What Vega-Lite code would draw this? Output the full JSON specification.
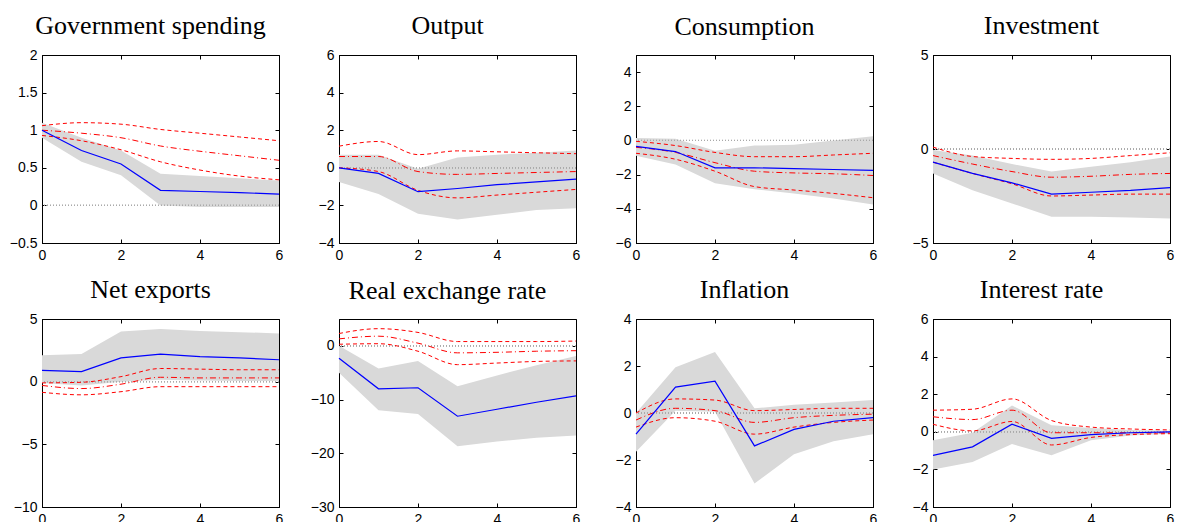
{
  "$schema": "https://vega.github.io/schema/vega-lite/v6.json",
  "padding": {"left": 8, "top": 12, "right": 5, "bottom": 0},
  "datasets": {
    "irf": [
      {"p":"g","t":0,"blue":1.0,"lo":0.9,"hi":1.1,"ru":1.06,"rm":1.0,"rl":0.93},
      {"p":"g","t":1,"blue":0.73,"lo":0.58,"hi":0.9,"ru":1.1,"rm":0.96,"rl":0.86},
      {"p":"g","t":2,"blue":0.55,"lo":0.4,"hi":0.73,"ru":1.08,"rm":0.9,"rl":0.74},
      {"p":"g","t":3,"blue":0.2,"lo":0.0,"hi":0.42,"ru":1.01,"rm":0.79,"rl":0.58},
      {"p":"g","t":4,"blue":0.185,"lo":-0.02,"hi":0.39,"ru":0.96,"rm":0.72,"rl":0.47},
      {"p":"g","t":5,"blue":0.17,"lo":-0.02,"hi":0.36,"ru":0.91,"rm":0.66,"rl":0.39},
      {"p":"g","t":6,"blue":0.15,"lo":-0.02,"hi":0.33,"ru":0.86,"rm":0.6,"rl":0.34},

      {"p":"y","t":0,"blue":0.0,"lo":-0.75,"hi":0.7,"ru":1.15,"rm":0.6,"rl":0.0},
      {"p":"y","t":1,"blue":-0.3,"lo":-1.4,"hi":0.7,"ru":1.4,"rm":0.6,"rl":-0.2},
      {"p":"y","t":2,"blue":-1.27,"lo":-2.45,"hi":-0.05,"ru":0.7,"rm":-0.2,"rl":-1.2},
      {"p":"y","t":3,"blue":-1.1,"lo":-2.75,"hi":0.55,"ru":0.9,"rm":-0.35,"rl":-1.6},
      {"p":"y","t":4,"blue":-0.9,"lo":-2.5,"hi":0.7,"ru":0.85,"rm":-0.3,"rl":-1.45},
      {"p":"y","t":5,"blue":-0.75,"lo":-2.25,"hi":0.8,"ru":0.8,"rm":-0.25,"rl":-1.3},
      {"p":"y","t":6,"blue":-0.6,"lo":-2.15,"hi":0.92,"ru":0.75,"rm":-0.2,"rl":-1.15},

      {"p":"c","t":0,"blue":-0.35,"lo":-0.9,"hi":0.15,"ru":-0.05,"rm":-0.4,"rl":-0.75},
      {"p":"c","t":1,"blue":-0.65,"lo":-1.4,"hi":0.1,"ru":-0.3,"rm":-0.7,"rl":-1.1},
      {"p":"c","t":2,"blue":-1.6,"lo":-2.5,"hi":-0.6,"ru":-0.7,"rm":-1.3,"rl":-1.8},
      {"p":"c","t":3,"blue":-1.6,"lo":-2.85,"hi":-0.3,"ru":-0.95,"rm":-1.8,"rl":-2.7},
      {"p":"c","t":4,"blue":-1.65,"lo":-3.1,"hi":-0.25,"ru":-0.95,"rm":-1.9,"rl":-2.9},
      {"p":"c","t":5,"blue":-1.7,"lo":-3.4,"hi":0.0,"ru":-0.85,"rm":-1.95,"rl":-3.1},
      {"p":"c","t":6,"blue":-1.75,"lo":-3.75,"hi":0.25,"ru":-0.75,"rm":-2.05,"rl":-3.35},

      {"p":"i","t":0,"blue":-0.7,"lo":-1.3,"hi":-0.05,"ru":0.1,"rm":-0.35,"rl":-0.7},
      {"p":"i","t":1,"blue":-1.3,"lo":-2.2,"hi":-0.35,"ru":-0.4,"rm":-0.8,"rl":-1.3},
      {"p":"i","t":2,"blue":-1.8,"lo":-2.9,"hi":-0.8,"ru":-0.5,"rm":-1.2,"rl":-1.85},
      {"p":"i","t":3,"blue":-2.4,"lo":-3.6,"hi":-1.2,"ru":-0.55,"rm":-1.5,"rl":-2.5},
      {"p":"i","t":4,"blue":-2.3,"lo":-3.6,"hi":-0.95,"ru":-0.5,"rm":-1.45,"rl":-2.45},
      {"p":"i","t":5,"blue":-2.2,"lo":-3.65,"hi":-0.7,"ru":-0.35,"rm":-1.35,"rl":-2.4},
      {"p":"i","t":6,"blue":-2.05,"lo":-3.7,"hi":-0.4,"ru":-0.2,"rm":-1.3,"rl":-2.4},

      {"p":"nx","t":0,"blue":0.9,"lo":-0.1,"hi":2.1,"ru":-0.1,"rm":-0.3,"rl":-0.85},
      {"p":"nx","t":1,"blue":0.8,"lo":-0.3,"hi":2.2,"ru":-0.05,"rm":-0.55,"rl":-1.05},
      {"p":"nx","t":2,"blue":1.9,"lo":0.0,"hi":4.0,"ru":0.4,"rm":-0.2,"rl":-0.8},
      {"p":"nx","t":3,"blue":2.2,"lo":0.15,"hi":4.2,"ru":1.05,"rm":0.35,"rl":-0.4},
      {"p":"nx","t":4,"blue":2.0,"lo":0.1,"hi":4.05,"ru":1.0,"rm":0.3,"rl":-0.4},
      {"p":"nx","t":5,"blue":1.9,"lo":0.05,"hi":3.95,"ru":0.95,"rm":0.3,"rl":-0.4},
      {"p":"nx","t":6,"blue":1.75,"lo":0.05,"hi":3.85,"ru":0.95,"rm":0.3,"rl":-0.4},

      {"p":"q","t":0,"blue":-2.3,"lo":-5.0,"hi":0.0,"ru":2.3,"rm":1.3,"rl":0.3},
      {"p":"q","t":1,"blue":-8.0,"lo":-12.0,"hi":-4.2,"ru":3.2,"rm":1.8,"rl":0.4},
      {"p":"q","t":2,"blue":-7.8,"lo":-12.7,"hi":-2.8,"ru":2.5,"rm":0.5,"rl":-1.0},
      {"p":"q","t":3,"blue":-13.1,"lo":-18.7,"hi":-7.5,"ru":0.8,"rm":-1.3,"rl":-3.5},
      {"p":"q","t":4,"blue":-11.8,"lo":-17.8,"hi":-5.5,"ru":0.8,"rm":-1.2,"rl":-3.2},
      {"p":"q","t":5,"blue":-10.5,"lo":-17.1,"hi":-3.6,"ru":0.8,"rm":-1.0,"rl":-2.9},
      {"p":"q","t":6,"blue":-9.3,"lo":-16.7,"hi":-1.9,"ru":0.9,"rm":-0.9,"rl":-2.8},

      {"p":"pi","t":0,"blue":-0.9,"lo":-1.65,"hi":0.0,"ru":0.0,"rm":-0.3,"rl":-0.6},
      {"p":"pi","t":1,"blue":1.1,"lo":0.1,"hi":1.95,"ru":0.6,"rm":0.2,"rl":-0.2},
      {"p":"pi","t":2,"blue":1.35,"lo":0.05,"hi":2.6,"ru":0.55,"rm":0.1,"rl":-0.35},
      {"p":"pi","t":3,"blue":-1.4,"lo":-3.0,"hi":0.2,"ru":0.1,"rm":-0.4,"rl":-0.9},
      {"p":"pi","t":4,"blue":-0.7,"lo":-1.75,"hi":0.35,"ru":0.15,"rm":-0.2,"rl":-0.6},
      {"p":"pi","t":5,"blue":-0.35,"lo":-1.2,"hi":0.45,"ru":0.2,"rm":-0.1,"rl":-0.4},
      {"p":"pi","t":6,"blue":-0.2,"lo":-0.9,"hi":0.55,"ru":0.2,"rm":-0.05,"rl":-0.3},

      {"p":"r","t":0,"blue":-1.25,"lo":-2.0,"hi":-0.45,"ru":1.15,"rm":0.8,"rl":0.4},
      {"p":"r","t":1,"blue":-0.8,"lo":-1.6,"hi":-0.05,"ru":1.2,"rm":0.65,"rl":0.05},
      {"p":"r","t":2,"blue":0.4,"lo":-0.65,"hi":1.4,"ru":1.75,"rm":1.15,"rl":0.55},
      {"p":"r","t":3,"blue":-0.35,"lo":-1.25,"hi":0.35,"ru":0.6,"rm":-0.05,"rl":-0.7},
      {"p":"r","t":4,"blue":-0.15,"lo":-0.45,"hi":0.2,"ru":0.25,"rm":-0.05,"rl":-0.3},
      {"p":"r","t":5,"blue":-0.05,"lo":-0.2,"hi":0.1,"ru":0.15,"rm":-0.05,"rl":-0.15},
      {"p":"r","t":6,"blue":0.0,"lo":-0.1,"hi":0.05,"ru":0.1,"rm":-0.05,"rl":-0.1}
    ]
  },
  "data": {"name": "irf"},
  "columns": 4,
  "spacing": {"row": 76, "column": 60},
  "bounds": "flush",
  "concat": [
    {
      "title": "Government spending", "width": 237, "height": 188,
      "transform": [{"filter": "datum.p == 'g'"}],
      "resolve": {"axis": {"x": "independent", "y": "independent"}},
      "layer": [
        {"mark": {"type": "area", "color": "#d9d9d9", "opacity": 1},
         "encoding": {"x": {"field": "t", "type": "quantitative", "scale": {"domain": [0, 6], "nice": false}, "axis": {"values": [0, 2, 4, 6], "title": null}},
                      "y": {"field": "lo", "type": "quantitative", "scale": {"domain": [-0.5, 2], "nice": false}, "axis": {"values": [-0.5, 0, 0.5, 1, 1.5, 2], "title": null}},
                      "y2": {"field": "hi"}}},
        {"mark": {"type": "rule", "color": "#aaaaaa", "strokeDash": [1, 2]}, "encoding": {"y": {"datum": 0, "axis": null}}},
        {"transform": [{"fold": ["ru", "rm", "rl"]}],
         "mark": {"type": "line", "color": "#ff0000", "interpolate": "monotone", "strokeWidth": 1},
         "encoding": {"x": {"field": "t", "type": "quantitative", "axis": null}, "y": {"field": "value", "type": "quantitative", "axis": null},
                      "detail": {"field": "key"},
                      "strokeDash": {"field": "key", "type": "nominal", "scale": {"domain": ["ru", "rm", "rl"], "range": [[4, 3], [6, 3, 1, 3], [4, 3]]}, "legend": null}}},
        {"mark": {"type": "line", "color": "#0000ff", "strokeWidth": 1.2},
         "encoding": {"x": {"field": "t", "type": "quantitative", "axis": {"orient": "top", "labels": false, "domain": false, "values": [0, 2, 4, 6], "title": null}},
                      "y": {"field": "blue", "type": "quantitative", "axis": {"orient": "right", "labels": false, "domain": false, "values": [-0.5, 0, 0.5, 1, 1.5, 2], "title": null}}}}
      ]
    },
    {
      "title": "Output", "width": 237, "height": 188,
      "transform": [{"filter": "datum.p == 'y'"}],
      "resolve": {"axis": {"x": "independent", "y": "independent"}},
      "layer": [
        {"mark": {"type": "area", "color": "#d9d9d9", "opacity": 1},
         "encoding": {"x": {"field": "t", "type": "quantitative", "scale": {"domain": [0, 6], "nice": false}, "axis": {"values": [0, 2, 4, 6], "title": null}},
                      "y": {"field": "lo", "type": "quantitative", "scale": {"domain": [-4, 6], "nice": false}, "axis": {"values": [-4, -2, 0, 2, 4, 6], "title": null}},
                      "y2": {"field": "hi"}}},
        {"mark": {"type": "rule", "color": "#aaaaaa", "strokeDash": [1, 2]}, "encoding": {"y": {"datum": 0, "axis": null}}},
        {"transform": [{"fold": ["ru", "rm", "rl"]}],
         "mark": {"type": "line", "color": "#ff0000", "interpolate": "monotone", "strokeWidth": 1},
         "encoding": {"x": {"field": "t", "type": "quantitative", "axis": null}, "y": {"field": "value", "type": "quantitative", "axis": null},
                      "detail": {"field": "key"},
                      "strokeDash": {"field": "key", "type": "nominal", "scale": {"domain": ["ru", "rm", "rl"], "range": [[4, 3], [6, 3, 1, 3], [4, 3]]}, "legend": null}}},
        {"mark": {"type": "line", "color": "#0000ff", "strokeWidth": 1.2},
         "encoding": {"x": {"field": "t", "type": "quantitative", "axis": {"orient": "top", "labels": false, "domain": false, "values": [0, 2, 4, 6], "title": null}},
                      "y": {"field": "blue", "type": "quantitative", "axis": {"orient": "right", "labels": false, "domain": false, "values": [-4, -2, 0, 2, 4, 6], "title": null}}}}
      ]
    },
    {
      "title": {"text": "Consumption", "dy": -6}, "width": 237, "height": 188,
      "transform": [{"filter": "datum.p == 'c'"}],
      "resolve": {"axis": {"x": "independent", "y": "independent"}},
      "layer": [
        {"mark": {"type": "area", "color": "#d9d9d9", "opacity": 1},
         "encoding": {"x": {"field": "t", "type": "quantitative", "scale": {"domain": [0, 6], "nice": false}, "axis": {"values": [0, 2, 4, 6], "title": null}},
                      "y": {"field": "lo", "type": "quantitative", "scale": {"domain": [-6, 5], "nice": false}, "axis": {"values": [-6, -4, -2, 0, 2, 4], "title": null}},
                      "y2": {"field": "hi"}}},
        {"mark": {"type": "rule", "color": "#aaaaaa", "strokeDash": [1, 2]}, "encoding": {"y": {"datum": 0, "axis": null}}},
        {"transform": [{"fold": ["ru", "rm", "rl"]}],
         "mark": {"type": "line", "color": "#ff0000", "interpolate": "monotone", "strokeWidth": 1},
         "encoding": {"x": {"field": "t", "type": "quantitative", "axis": null}, "y": {"field": "value", "type": "quantitative", "axis": null},
                      "detail": {"field": "key"},
                      "strokeDash": {"field": "key", "type": "nominal", "scale": {"domain": ["ru", "rm", "rl"], "range": [[4, 3], [6, 3, 1, 3], [4, 3]]}, "legend": null}}},
        {"mark": {"type": "line", "color": "#0000ff", "strokeWidth": 1.2},
         "encoding": {"x": {"field": "t", "type": "quantitative", "axis": {"orient": "top", "labels": false, "domain": false, "values": [0, 2, 4, 6], "title": null}},
                      "y": {"field": "blue", "type": "quantitative", "axis": {"orient": "right", "labels": false, "domain": false, "values": [-6, -4, -2, 0, 2, 4], "title": null}}}}
      ]
    },
    {
      "title": "Investment", "width": 237, "height": 188,
      "transform": [{"filter": "datum.p == 'i'"}],
      "resolve": {"axis": {"x": "independent", "y": "independent"}},
      "layer": [
        {"mark": {"type": "area", "color": "#d9d9d9", "opacity": 1},
         "encoding": {"x": {"field": "t", "type": "quantitative", "scale": {"domain": [0, 6], "nice": false}, "axis": {"values": [0, 2, 4, 6], "title": null}},
                      "y": {"field": "lo", "type": "quantitative", "scale": {"domain": [-5, 5], "nice": false}, "axis": {"values": [-5, 0, 5], "title": null}},
                      "y2": {"field": "hi"}}},
        {"mark": {"type": "rule", "color": "#aaaaaa", "strokeDash": [1, 2]}, "encoding": {"y": {"datum": 0, "axis": null}}},
        {"transform": [{"fold": ["ru", "rm", "rl"]}],
         "mark": {"type": "line", "color": "#ff0000", "interpolate": "monotone", "strokeWidth": 1},
         "encoding": {"x": {"field": "t", "type": "quantitative", "axis": null}, "y": {"field": "value", "type": "quantitative", "axis": null},
                      "detail": {"field": "key"},
                      "strokeDash": {"field": "key", "type": "nominal", "scale": {"domain": ["ru", "rm", "rl"], "range": [[4, 3], [6, 3, 1, 3], [4, 3]]}, "legend": null}}},
        {"mark": {"type": "line", "color": "#0000ff", "strokeWidth": 1.2},
         "encoding": {"x": {"field": "t", "type": "quantitative", "axis": {"orient": "top", "labels": false, "domain": false, "values": [0, 2, 4, 6], "title": null}},
                      "y": {"field": "blue", "type": "quantitative", "axis": {"orient": "right", "labels": false, "domain": false, "values": [-5, 0, 5], "title": null}}}}
      ]
    },
    {
      "title": "Net exports", "width": 237, "height": 188,
      "transform": [{"filter": "datum.p == 'nx'"}],
      "resolve": {"axis": {"x": "independent", "y": "independent"}},
      "layer": [
        {"mark": {"type": "area", "color": "#d9d9d9", "opacity": 1},
         "encoding": {"x": {"field": "t", "type": "quantitative", "scale": {"domain": [0, 6], "nice": false}, "axis": {"values": [0, 2, 4, 6], "title": null}},
                      "y": {"field": "lo", "type": "quantitative", "scale": {"domain": [-10, 5], "nice": false}, "axis": {"values": [-10, -5, 0, 5], "title": null}},
                      "y2": {"field": "hi"}}},
        {"mark": {"type": "rule", "color": "#aaaaaa", "strokeDash": [1, 2]}, "encoding": {"y": {"datum": 0, "axis": null}}},
        {"transform": [{"fold": ["ru", "rm", "rl"]}],
         "mark": {"type": "line", "color": "#ff0000", "interpolate": "monotone", "strokeWidth": 1},
         "encoding": {"x": {"field": "t", "type": "quantitative", "axis": null}, "y": {"field": "value", "type": "quantitative", "axis": null},
                      "detail": {"field": "key"},
                      "strokeDash": {"field": "key", "type": "nominal", "scale": {"domain": ["ru", "rm", "rl"], "range": [[4, 3], [6, 3, 1, 3], [4, 3]]}, "legend": null}}},
        {"mark": {"type": "line", "color": "#0000ff", "strokeWidth": 1.2},
         "encoding": {"x": {"field": "t", "type": "quantitative", "axis": {"orient": "top", "labels": false, "domain": false, "values": [0, 2, 4, 6], "title": null}},
                      "y": {"field": "blue", "type": "quantitative", "axis": {"orient": "right", "labels": false, "domain": false, "values": [-10, -5, 0, 5], "title": null}}}}
      ]
    },
    {
      "title": {"text": "Real exchange rate", "dy": -6}, "width": 237, "height": 188,
      "transform": [{"filter": "datum.p == 'q'"}],
      "resolve": {"axis": {"x": "independent", "y": "independent"}},
      "layer": [
        {"mark": {"type": "area", "color": "#d9d9d9", "opacity": 1},
         "encoding": {"x": {"field": "t", "type": "quantitative", "scale": {"domain": [0, 6], "nice": false}, "axis": {"values": [0, 2, 4, 6], "title": null}},
                      "y": {"field": "lo", "type": "quantitative", "scale": {"domain": [-30, 5], "nice": false}, "axis": {"values": [-30, -20, -10, 0], "title": null}},
                      "y2": {"field": "hi"}}},
        {"mark": {"type": "rule", "color": "#aaaaaa", "strokeDash": [1, 2]}, "encoding": {"y": {"datum": 0, "axis": null}}},
        {"transform": [{"fold": ["ru", "rm", "rl"]}],
         "mark": {"type": "line", "color": "#ff0000", "interpolate": "monotone", "strokeWidth": 1},
         "encoding": {"x": {"field": "t", "type": "quantitative", "axis": null}, "y": {"field": "value", "type": "quantitative", "axis": null},
                      "detail": {"field": "key"},
                      "strokeDash": {"field": "key", "type": "nominal", "scale": {"domain": ["ru", "rm", "rl"], "range": [[4, 3], [6, 3, 1, 3], [4, 3]]}, "legend": null}}},
        {"mark": {"type": "line", "color": "#0000ff", "strokeWidth": 1.2},
         "encoding": {"x": {"field": "t", "type": "quantitative", "axis": {"orient": "top", "labels": false, "domain": false, "values": [0, 2, 4, 6], "title": null}},
                      "y": {"field": "blue", "type": "quantitative", "axis": {"orient": "right", "labels": false, "domain": false, "values": [-30, -20, -10, 0], "title": null}}}}
      ]
    },
    {
      "title": "Inflation", "width": 237, "height": 188,
      "transform": [{"filter": "datum.p == 'pi'"}],
      "resolve": {"axis": {"x": "independent", "y": "independent"}},
      "layer": [
        {"mark": {"type": "area", "color": "#d9d9d9", "opacity": 1},
         "encoding": {"x": {"field": "t", "type": "quantitative", "scale": {"domain": [0, 6], "nice": false}, "axis": {"values": [0, 2, 4, 6], "title": null}},
                      "y": {"field": "lo", "type": "quantitative", "scale": {"domain": [-4, 4], "nice": false}, "axis": {"values": [-4, -2, 0, 2, 4], "title": null}},
                      "y2": {"field": "hi"}}},
        {"mark": {"type": "rule", "color": "#aaaaaa", "strokeDash": [1, 2]}, "encoding": {"y": {"datum": 0, "axis": null}}},
        {"transform": [{"fold": ["ru", "rm", "rl"]}],
         "mark": {"type": "line", "color": "#ff0000", "interpolate": "monotone", "strokeWidth": 1},
         "encoding": {"x": {"field": "t", "type": "quantitative", "axis": null}, "y": {"field": "value", "type": "quantitative", "axis": null},
                      "detail": {"field": "key"},
                      "strokeDash": {"field": "key", "type": "nominal", "scale": {"domain": ["ru", "rm", "rl"], "range": [[4, 3], [6, 3, 1, 3], [4, 3]]}, "legend": null}}},
        {"mark": {"type": "line", "color": "#0000ff", "strokeWidth": 1.2},
         "encoding": {"x": {"field": "t", "type": "quantitative", "axis": {"orient": "top", "labels": false, "domain": false, "values": [0, 2, 4, 6], "title": null}},
                      "y": {"field": "blue", "type": "quantitative", "axis": {"orient": "right", "labels": false, "domain": false, "values": [-4, -2, 0, 2, 4], "title": null}}}}
      ]
    },
    {
      "title": "Interest rate", "width": 237, "height": 188,
      "transform": [{"filter": "datum.p == 'r'"}],
      "resolve": {"axis": {"x": "independent", "y": "independent"}},
      "layer": [
        {"mark": {"type": "area", "color": "#d9d9d9", "opacity": 1},
         "encoding": {"x": {"field": "t", "type": "quantitative", "scale": {"domain": [0, 6], "nice": false}, "axis": {"values": [0, 2, 4, 6], "title": null}},
                      "y": {"field": "lo", "type": "quantitative", "scale": {"domain": [-4, 6], "nice": false}, "axis": {"values": [-4, -2, 0, 2, 4, 6], "title": null}},
                      "y2": {"field": "hi"}}},
        {"mark": {"type": "rule", "color": "#aaaaaa", "strokeDash": [1, 2]}, "encoding": {"y": {"datum": 0, "axis": null}}},
        {"transform": [{"fold": ["ru", "rm", "rl"]}],
         "mark": {"type": "line", "color": "#ff0000", "interpolate": "monotone", "strokeWidth": 1},
         "encoding": {"x": {"field": "t", "type": "quantitative", "axis": null}, "y": {"field": "value", "type": "quantitative", "axis": null},
                      "detail": {"field": "key"},
                      "strokeDash": {"field": "key", "type": "nominal", "scale": {"domain": ["ru", "rm", "rl"], "range": [[4, 3], [6, 3, 1, 3], [4, 3]]}, "legend": null}}},
        {"mark": {"type": "line", "color": "#0000ff", "strokeWidth": 1.2},
         "encoding": {"x": {"field": "t", "type": "quantitative", "axis": {"orient": "top", "labels": false, "domain": false, "values": [0, 2, 4, 6], "title": null}},
                      "y": {"field": "blue", "type": "quantitative", "axis": {"orient": "right", "labels": false, "domain": false, "values": [-4, -2, 0, 2, 4, 6], "title": null}}}}
      ]
    }
  ],
  "config": {
    "view": {"stroke": "#000000", "strokeWidth": 1},
    "axis": {"grid": false, "domainColor": "#000000", "tickColor": "#000000", "tickSize": -4, "labelColor": "#000000",
             "labelFont": "Liberation Sans", "labelFontSize": 14, "labelPadding": 9, "format": "~r", "labelFlush": false, "labelOverlap": false},
    "title": {"font": "Liberation Serif", "fontSize": 26, "fontWeight": "normal", "color": "#000000", "dx": -10, "offset": 9}
  }
}
